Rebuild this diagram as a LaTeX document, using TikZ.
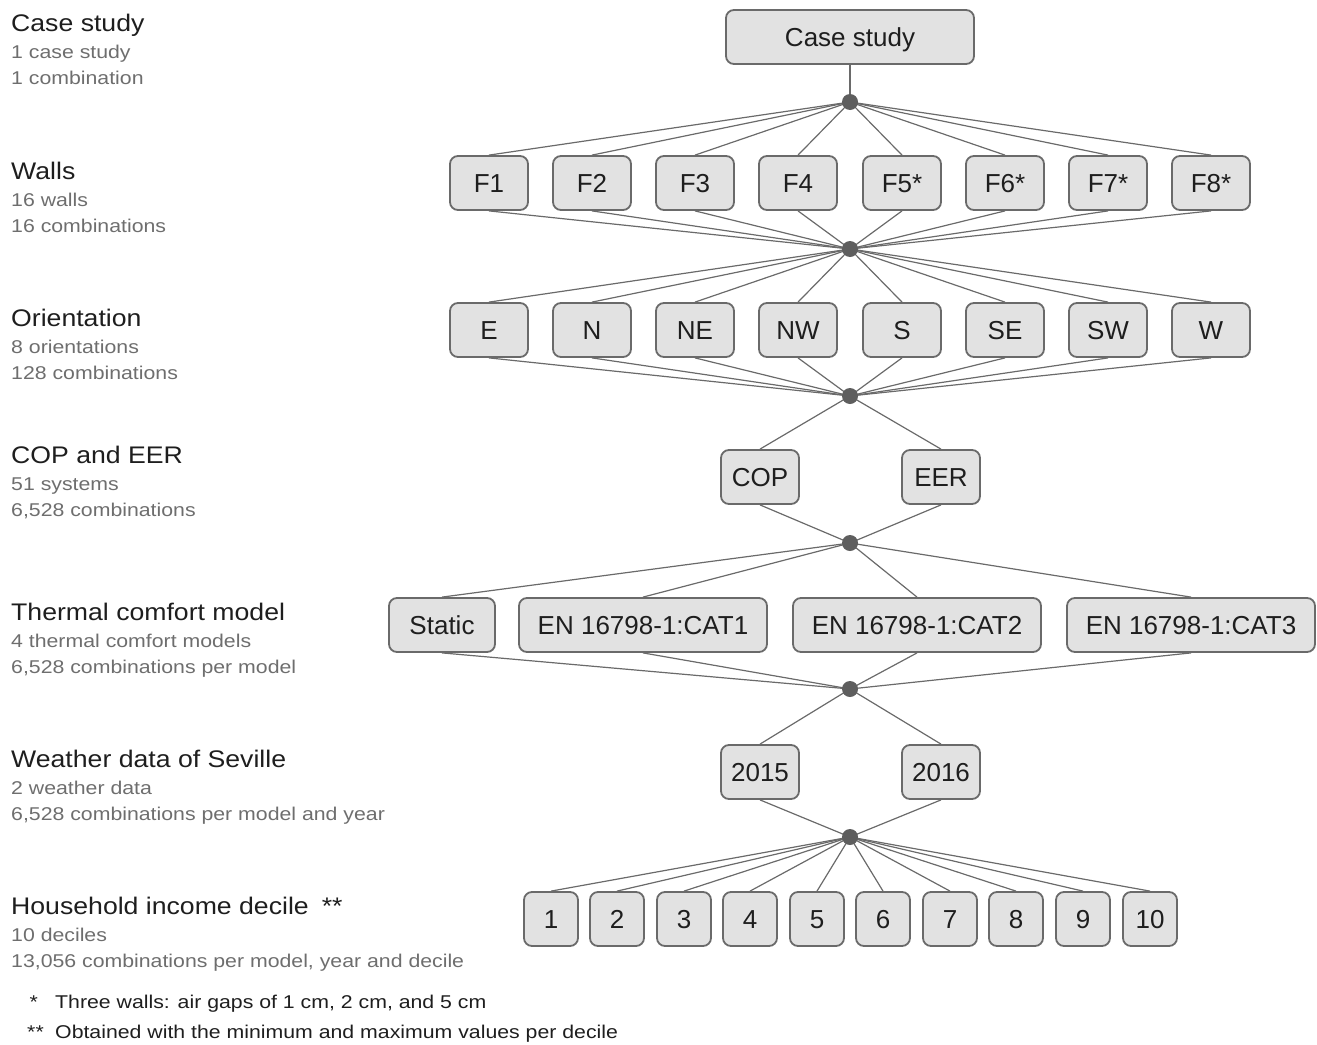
\documentclass[tikz,border=0pt]{standalone}
\usepackage{fontspec}
\setmainfont{Liberation Sans}
\newfontfamily\wideA[FakeStretch=1.11]{Liberation Sans}
\newfontfamily\wideB[FakeStretch=1.15]{Liberation Sans}
\definecolor{boxfill}{HTML}{E2E2E2}
\definecolor{boxborder}{HTML}{6A6A6A}
\definecolor{linecol}{HTML}{6A6A6A}
\definecolor{dotcol}{HTML}{5E5E5E}
\definecolor{subcol}{HTML}{6E6E6E}
\definecolor{titlecol}{HTML}{1E1E1E}
\begin{document}
\begin{tikzpicture}[x=1pt,y=-1pt,
  bx/.style={draw=boxborder, fill=boxfill, rounded corners=8pt, line width=1.8pt,
    minimum height=54pt, inner sep=0pt, text height=18.6pt, text depth=0pt,
    text=titlecol, font=\fontsize{26}{30}\selectfont},
  dotc/.style={circle, fill=dotcol, minimum size=16pt, inner sep=0pt},
  conn/.style={draw=linecol, line width=1.2pt},
  ttl/.style={anchor=base west, inner sep=0pt, text=titlecol, font=\wideA\fontsize{24}{28}\selectfont},
  sub/.style={anchor=base west, inner sep=0pt, text=subcol, font=\wideB\fontsize{18.5}{22}\selectfont},
  fn/.style={anchor=base west, inner sep=0pt, text=titlecol, font=\wideB\fontsize{18.5}{22}\selectfont},
  fnm/.style={anchor=base east, inner sep=0pt, text=titlecol, font=\wideB\fontsize{18.5}{22}\selectfont}]
\useasboundingbox (0,0) rectangle (1317,1044);

% left labels
\node[ttl] (t1) at (11,31) {Case study};
\node[sub] (s1a) at (11,58) {1 case study};
\node[sub] (s1b) at (11,84) {1 combination};
\node[ttl] (t2) at (11,179) {Walls};
\node[sub] (s2a) at (11,206) {16 walls};
\node[sub] (s2b) at (11,232) {16 combinations};
\node[ttl] (t3) at (11,326) {Orientation};
\node[sub] (s3a) at (11,353) {8 orientations};
\node[sub] (s3b) at (11,379) {128 combinations};
\node[ttl] (t4) at (11,463) {COP and EER};
\node[sub] (s4a) at (11,490) {51 systems};
\node[sub] (s4b) at (11,516) {6,528 combinations};
\node[ttl] (t5) at (11,620) {Thermal comfort model};
\node[sub] (s5a) at (11,647) {4 thermal comfort models};
\node[sub] (s5b) at (11,673) {6,528 combinations per model};
\node[ttl] (t6) at (11,767) {Weather data of Seville};
\node[sub] (s6a) at (11,794) {2 weather data};
\node[sub] (s6b) at (11,820) {6,528 combinations per model and year};
\node[ttl] (t7) at (11,914) {Household income decile\hspace{13pt}**};
\node[sub] (s7a) at (11,941) {10 deciles};
\node[sub] (s7b) at (11,967) {13,056 combinations per model, year and decile};
\node[fnm] (f1m) at (38,1008) {*};
\node[fn] (f1) at (55,1008) {Three walls: air gaps of 1 cm, 2 cm, and 5 cm};
\node[fnm] (f2m) at (44,1038) {**};
\node[fn] (f2) at (55,1038) {Obtained with the minimum and maximum values per decile};

% boxes
\node[bx, minimum width=248pt] (cs) at (850,37) {Case study};

\foreach \n/\x/\l in {1/489/F1,2/592/F2,3/695/F3,4/798/F4,5/902/F5*,6/1005/F6*,7/1108/F7*,8/1211/F8*}
  \node[bx, minimum width=78pt] (w\n) at (\x,183) {\l};
\foreach \n/\x/\l in {1/489/E,2/592/N,3/695/NE,4/798/NW,5/902/S,6/1005/SE,7/1108/SW,8/1211/W}
  \node[bx, minimum width=78pt] (o\n) at (\x,330) {\l};
\node[bx, minimum width=78pt] (cop) at (760,477) {COP};
\node[bx, minimum width=78pt] (eer) at (941,477) {EER};
\node[bx, minimum width=106pt] (tc0) at (442,625) {Static};
\node[bx, minimum width=248pt] (tc1) at (643,625) {EN 16798-1:CAT1};
\node[bx, minimum width=248pt] (tc2) at (917,625) {EN 16798-1:CAT2};
\node[bx, minimum width=248pt] (tc3) at (1191,625) {EN 16798-1:CAT3};
\node[bx, minimum width=78pt] (y1) at (760,772) {2015};
\node[bx, minimum width=78pt] (y2) at (941,772) {2016};
\foreach \n/\x in {1/551,2/617,3/684,4/750,5/817,6/883,7/950,8/1016,9/1083,10/1150}
  \node[bx, minimum width=54pt] (d\n) at (\x,919) {\n};

% junction points
\coordinate (j1) at (850,102);
\coordinate (j2) at (850,249);
\coordinate (j3) at (850,396);
\coordinate (j4) at (850,543);
\coordinate (j5) at (850,689);
\coordinate (j6) at (850,837);

% connectors
\draw[conn] (cs.south) -- (j1);
\foreach \n in {1,...,8} {
  \draw[conn] (j1) -- (w\n.north);
  \draw[conn] (w\n.south) -- (j2);
  \draw[conn] (j2) -- (o\n.north);
  \draw[conn] (o\n.south) -- (j3);
}
\foreach \b in {cop,eer} {
  \draw[conn] (j3) -- (\b.north);
  \draw[conn] (\b.south) -- (j4);
}
\foreach \b in {tc0,tc1,tc2,tc3} {
  \draw[conn] (j4) -- (\b.north);
  \draw[conn] (\b.south) -- (j5);
}
\foreach \b in {y1,y2} {
  \draw[conn] (j5) -- (\b.north);
  \draw[conn] (\b.south) -- (j6);
}
\foreach \n in {1,...,10}
  \draw[conn] (j6) -- (d\n.north);

\foreach \j in {1,...,6}
  \node[dotc] (dot\j) at (j\j) {};
\end{tikzpicture}
\end{document}
